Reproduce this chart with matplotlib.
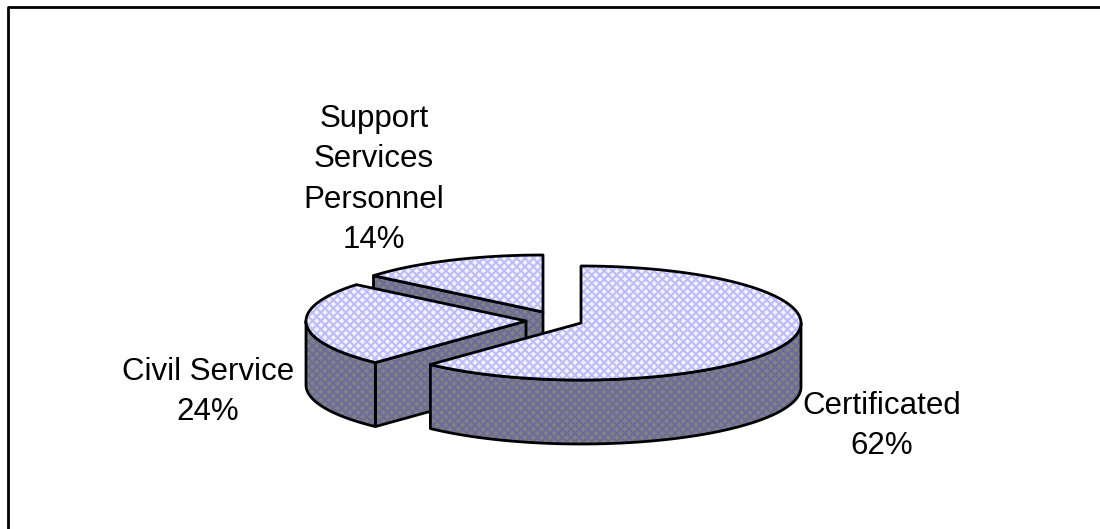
import numpy as np
import matplotlib
matplotlib.use("Agg")
import matplotlib.pyplot as plt
from matplotlib.patches import Polygon

categories = ["Certificated", "Civil Service", "Support\nServices\nPersonnel"]
shares = [62, 24, 14]

plt.rcParams["font.family"] = ["Liberation Sans", "DejaVu Sans"]
plt.rcParams["hatch.linewidth"] = 1.5

W, H = 1100, 529
fig = plt.figure(figsize=(W / 100, H / 100), dpi=100, facecolor="white")
ax = fig.add_axes([0, 0, 1, 1])
ax.set_xlim(0, W)
ax.set_ylim(H, 0)
ax.axis("off")

# frame: only top and left are visible
ax.plot([7.5, 7.5, W], [H, 6.5, 6.5], color="black", lw=2, solid_capstyle="butt", zorder=1)

RX, RY, DEPTH = 220, 57, 64
centers = [(581, 323), (526, 321), (543, 312)]
label_pos = [(882, 426), (208, 392), (374, 179.5)]
TOP_FACE, TOP_HATCH = "#f4f4ff", "#bcbcff"
WALL_FACE, WALL_HATCH = "#828282", "#6c6c9a"


def rim(cx, cy, a0, a1, n=120):
    t = np.radians(np.linspace(a0, a1, n))
    return np.column_stack([cx + RX * np.sin(t), cy - RY * np.cos(t)])


def draw(poly, face, hatch, z):
    ax.add_patch(Polygon(poly, closed=True, facecolor=face, edgecolor=hatch, hatch="xxxx", lw=0, zorder=z))
    ax.add_patch(Polygon(poly, closed=True, fill=False, edgecolor="black", lw=2, joinstyle="round", zorder=z + 0.1))


starts = np.cumsum([0] + shares[:-1]) * 3.6
ends = np.cumsum(shares) * 3.6
# painter's order: back slice first
for i in [2, 1, 0]:
    z = 10 + (2 - i) * 3
    cx, cy = centers[i]
    a0, a1 = starts[i], ends[i]
    apex = np.array([cx, cy])
    d = np.array([0, DEPTH])
    # the cut face at the start angle shows when it lies on the left side
    if np.sin(np.radians(a0)) < 0:
        p = rim(cx, cy, a0, a0, 1)[0]
        draw(np.array([apex, p, p + d, apex + d]), WALL_FACE, WALL_HATCH, z)
    # outer wall (front-facing part, 90..270 degrees)
    lo, hi = max(a0, 90), min(a1, 270)
    if hi > lo:
        arc = rim(cx, cy, lo, hi)
        draw(np.vstack([arc, (arc + d)[::-1]]), WALL_FACE, WALL_HATCH, z + 0.5)
    # top
    draw(np.vstack([apex, rim(cx, cy, a0, a1)]), TOP_FACE, TOP_HATCH, z + 1)

for name, val, (x, y) in zip(categories, shares, label_pos):
    ax.text(x, y, f"{name}\n{val}%", ha="center", va="center", fontsize=22.5, linespacing=1.44,
            color="black", zorder=30)

fig.savefig("out.png", dpi=100)
